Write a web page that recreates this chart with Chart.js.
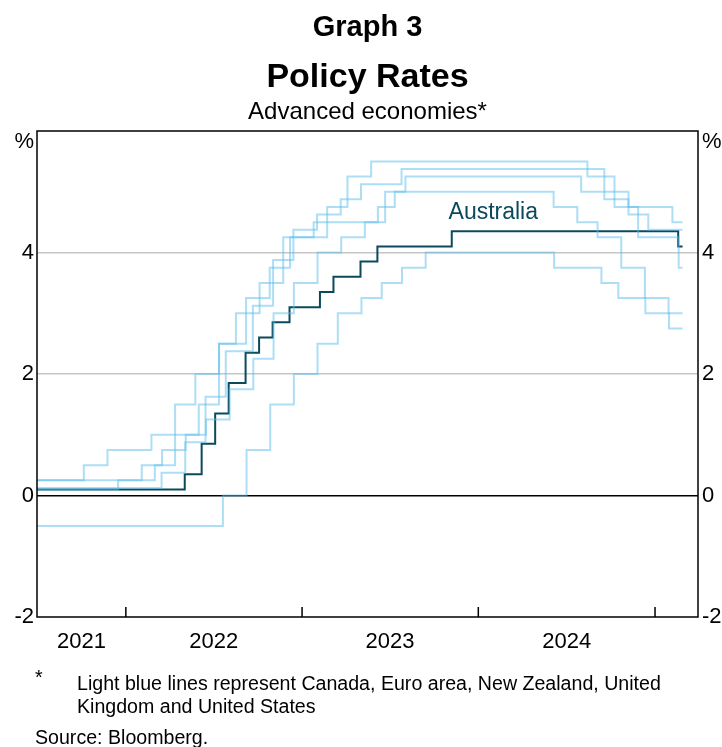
<!DOCTYPE html>
<html>
<head>
<meta charset="utf-8">
<script src="https://cdn.jsdelivr.net/npm/chart.js@4"></script>
<style>
  body { margin: 0; background: #fff; font-family: Arial, "Liberation Sans", sans-serif; color: #000; }
  #wrap { position: relative; width: 722px; height: 747px; }
  #wrap canvas { position: absolute; left: 0; top: 0; }
  .t { position: absolute; left: 37px; width: 661px; text-align: center; line-height: 1; white-space: nowrap; }
  .n { position: absolute; font-size: 19.6px; line-height: 1; white-space: nowrap; }
</style>
</head>
<body>
<div id="wrap">
  <canvas id="policyChart" width="722" height="747"></canvas>
  <div class="t" style="top:12px;font-size:29px;font-weight:bold;">Graph 3</div>
  <div class="t" style="top:58px;font-size:34px;font-weight:bold;">Policy Rates</div>
  <div class="t" style="top:99px;font-size:24px;">Advanced economies*</div>
  <div class="n" style="left:35px;top:668px;">*</div>
  <div class="n" style="left:77px;top:674px;">Light blue lines represent Canada, Euro area, New Zealand, United</div>
  <div class="n" style="left:77px;top:697px;">Kingdom and United States</div>
  <div class="n" style="left:35px;top:728px;">Source: Bloomberg.</div>
</div>
<script>
// policy rate decisions: date the new rate applies, and the rate (%)
var australiaDates = ['2021-07-01', '2022-05-03', '2022-06-07', '2022-07-05', '2022-08-02', '2022-09-06', '2022-10-04', '2022-11-01', '2022-12-06', '2023-02-07', '2023-03-07', '2023-05-02', '2023-06-06', '2023-11-07', '2025-02-18', '2025-02-27'];
var australiaRates = [0.10, 0.35, 0.85, 1.35, 1.85, 2.35, 2.60, 2.85, 3.10, 3.35, 3.60, 3.85, 4.10, 4.35, 4.10, 4.10];

var canadaDates = ['2021-07-01', '2022-03-02', '2022-04-13', '2022-06-01', '2022-07-13', '2022-09-07', '2022-10-26', '2022-12-07', '2023-01-25', '2023-06-07', '2023-07-12', '2024-06-05', '2024-07-24', '2024-09-04', '2024-10-23', '2024-12-11', '2025-01-29', '2025-02-27'];
var canadaRates = [0.25, 0.50, 1.00, 1.50, 2.50, 3.25, 3.75, 4.25, 4.50, 4.75, 5.00, 4.75, 4.50, 4.25, 3.75, 3.25, 3.00, 3.00];

var euroDates = ['2021-07-01', '2022-07-21', '2022-09-08', '2022-10-27', '2022-12-15', '2023-02-02', '2023-03-16', '2023-05-04', '2023-06-15', '2023-07-27', '2023-09-14', '2024-06-06', '2024-09-12', '2024-10-17', '2024-12-12', '2025-01-30', '2025-02-27'];
var euroRates = [-0.50, 0.00, 0.75, 1.50, 2.00, 2.50, 3.00, 3.25, 3.50, 3.75, 4.00, 3.75, 3.50, 3.25, 3.00, 2.75, 2.75];

var nzDates = ['2021-07-01', '2021-10-06', '2021-11-24', '2022-02-23', '2022-04-13', '2022-05-25', '2022-07-13', '2022-08-17', '2022-10-05', '2022-11-23', '2023-02-22', '2023-04-05', '2023-05-24', '2024-08-14', '2024-10-09', '2024-11-27', '2025-02-19', '2025-02-27'];
var nzRates = [0.25, 0.50, 0.75, 1.00, 1.50, 2.00, 2.50, 3.00, 3.50, 4.25, 4.75, 5.25, 5.50, 5.25, 4.75, 4.25, 3.75, 3.75];

var ukDates = ['2021-07-01', '2021-12-16', '2022-02-03', '2022-03-17', '2022-05-05', '2022-06-16', '2022-08-04', '2022-09-22', '2022-11-03', '2022-12-15', '2023-02-02', '2023-03-23', '2023-05-11', '2023-06-22', '2023-08-03', '2024-08-01', '2024-11-07', '2025-02-06', '2025-02-27'];
var ukRates = [0.10, 0.25, 0.50, 0.75, 1.00, 1.25, 1.75, 2.25, 3.00, 3.50, 4.00, 4.25, 4.50, 5.00, 5.25, 5.00, 4.75, 4.50, 4.50];

// US: mid-point of the fed funds target range
var usDates = ['2021-07-01', '2022-03-16', '2022-05-04', '2022-06-15', '2022-07-27', '2022-09-21', '2022-11-02', '2022-12-14', '2023-02-01', '2023-03-22', '2023-05-03', '2023-07-26', '2024-09-18', '2024-11-07', '2024-12-18', '2025-02-27'];
var usRates = [0.125, 0.375, 0.875, 1.625, 2.375, 3.125, 3.875, 4.375, 4.625, 4.875, 5.125, 5.375, 4.875, 4.625, 4.375, 4.375];

var xStart = '2021-07-01';
var xEnd = '2025-03-31';
var yearLabels = ['2021', '2022', '2023', '2024'];
var yearLabelDates = ['2021-10-01', '2022-07-02', '2023-07-02', '2024-07-02'];
var yearTickDates = ['2022-01-01', '2023-01-01', '2024-01-01', '2025-01-01'];
var yTicks = [-2, 0, 2, 4, 6];
var australiaLabel = { date: '2024-02-01', rate: 4.66, text: 'Australia' };

var FONT = 'Arial, "Liberation Sans", sans-serif';
var LIGHT = 'rgba(92, 190, 235, 0.5)';
var DARK = '#0b4a5c';

function toPoints(dates, rates) {
  return dates.map(function (d, i) { return { x: Date.parse(d), y: rates[i] }; });
}

function lightLine(label, dates, rates) {
  return {
    label: label,
    data: toPoints(dates, rates),
    borderColor: LIGHT,
    borderWidth: 2,
    stepped: true,
    pointRadius: 0,
    fill: false
  };
}

var frame = {
  id: 'frame',
  afterDatasetsDraw: function (chart) {
    var ctx = chart.ctx, a = chart.chartArea, x = chart.scales.x, y = chart.scales.y;
    ctx.save();
    ctx.strokeStyle = '#000';
    ctx.lineWidth = 1.5;
    ctx.strokeRect(a.left, a.top, a.right - a.left, a.bottom - a.top);
    ctx.beginPath();
    yearTickDates.forEach(function (d) {
      var px = x.getPixelForValue(Date.parse(d));
      ctx.moveTo(px, a.bottom);
      ctx.lineTo(px, a.bottom - 10);
    });
    ctx.stroke();
    ctx.fillStyle = DARK;
    ctx.font = '23px ' + FONT;
    ctx.textAlign = 'center';
    ctx.textBaseline = 'middle';
    ctx.fillText(australiaLabel.text, x.getPixelForValue(Date.parse(australiaLabel.date)), y.getPixelForValue(australiaLabel.rate));
    ctx.restore();
  }
};

var yTickLabel = function (v) { return v === 6 ? ['', '%'] : v; };

new Chart(document.getElementById('policyChart'), {
  type: 'line',
  data: {
    datasets: [
      lightLine('Canada', canadaDates, canadaRates),
      lightLine('Euro area', euroDates, euroRates),
      lightLine('New Zealand', nzDates, nzRates),
      lightLine('United Kingdom', ukDates, ukRates),
      lightLine('United States', usDates, usRates),
      {
        label: 'Australia',
        data: toPoints(australiaDates, australiaRates),
        borderColor: DARK,
        borderWidth: 2,
        stepped: true,
        pointRadius: 0,
        fill: false
      }
    ]
  },
  options: {
    responsive: false,
    animation: false,
    events: [],
    layout: { padding: { top: 131, bottom: 82, left: 0, right: 0 } },
    plugins: { legend: { display: false }, tooltip: { enabled: false } },
    scales: {
      x: {
        type: 'linear',
        min: Date.parse(xStart),
        max: Date.parse(xEnd),
        afterBuildTicks: function (s) {
          s.ticks = yearLabelDates.map(function (d) { return { value: Date.parse(d) }; });
        },
        afterFit: function (s) { s.height = 48; },
        grid: { display: false, drawTicks: false },
        border: { display: false },
        ticks: {
          autoSkip: false,
          maxRotation: 0,
          padding: 12,
          color: '#000',
          font: { family: FONT, size: 22 },
          callback: function (v, i) { return yearLabels[i]; }
        }
      },
      y: {
        position: 'left',
        min: -2,
        max: 6,
        afterBuildTicks: function (s) { s.ticks = yTicks.map(function (v) { return { value: v }; }); },
        afterFit: function (s) { s.width = 37; },
        border: { display: false },
        grid: {
          drawTicks: false,
          lineWidth: 1.5,
          color: function (c) {
            var v = c.tick && c.tick.value;
            if (v === 0) return '#000';
            if (v === 2 || v === 4) return '#c6c6c6';
            return 'rgba(0,0,0,0)';
          }
        },
        ticks: {
          padding: 3,
          color: '#000',
          font: { family: FONT, size: 22, lineHeight: 1 },
          callback: yTickLabel
        }
      },
      y2: {
        position: 'right',
        min: -2,
        max: 6,
        afterBuildTicks: function (s) { s.ticks = yTicks.map(function (v) { return { value: v }; }); },
        afterFit: function (s) { s.width = 24; },
        border: { display: false },
        grid: { drawOnChartArea: false, drawTicks: false },
        ticks: {
          padding: 4,
          color: '#000',
          font: { family: FONT, size: 22, lineHeight: 1 },
          callback: yTickLabel
        }
      }
    }
  },
  plugins: [frame]
});
</script>
</body>
</html>
